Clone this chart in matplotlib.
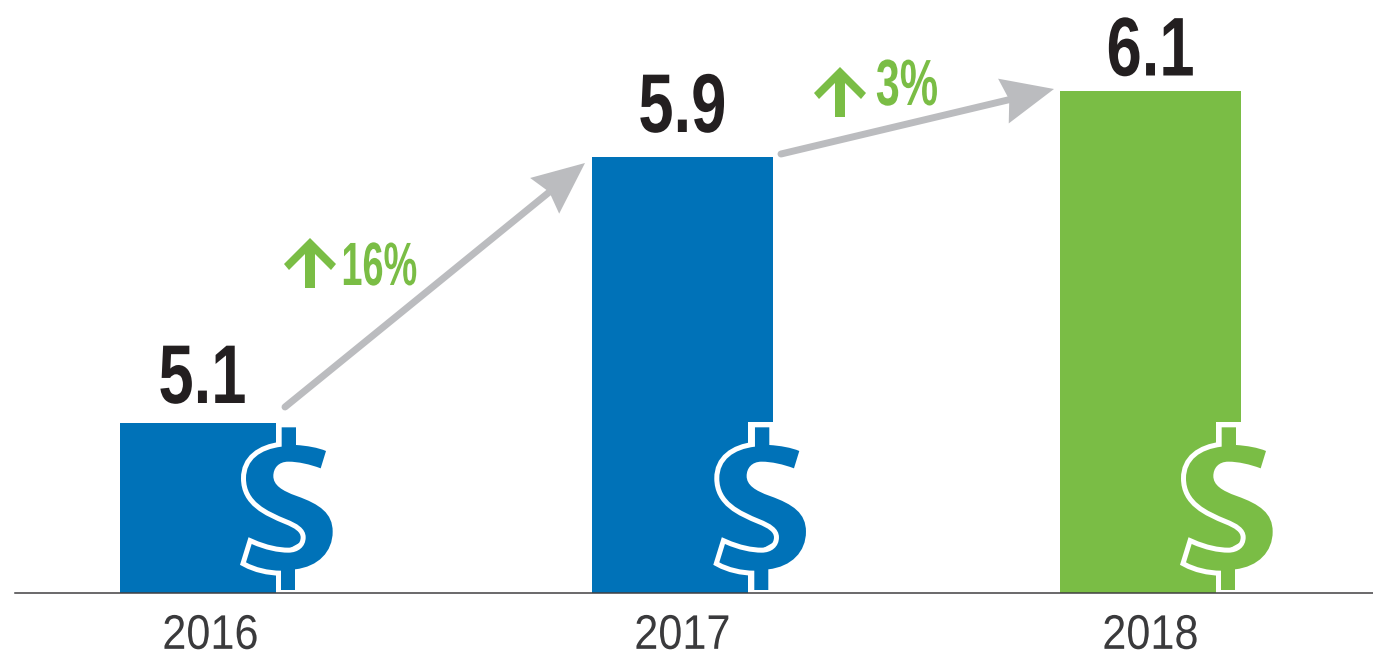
"""2016-2018 bar graphic with growth arrows and dollar signs."""
import matplotlib
matplotlib.use("Agg")
import matplotlib.patheffects as pe
import matplotlib.pyplot as plt
import numpy as np
from matplotlib.patches import PathPatch, Polygon, Rectangle
from matplotlib.path import Path
from matplotlib.transforms import Affine2D

years = ["2016", "2017", "2018"]
values = [5.1, 5.9, 6.1]
value_labels = ["5.1", "5.9", "6.1"]
growth_labels = ["16%", "3%"]

BLUE = "#0072B8"
GREEN = "#7ABD45"
GRAY = "#BBBCBF"
INK = "#231F20"
bar_colors = [BLUE, BLUE, GREEN]

W, H = 1373, 660
BASE_PX = 593
PX_PER_UNIT = 332.5
PX_PER_STEP = 472
FONT = "Liberation Sans"

# dollar icon outline, traced at 3x; the icon is cut out of each bar's right end
M, L, C = Path.MOVETO, Path.LINETO, Path.CURVE4
DOLLAR = [
    (M, [(515, 82)]), (L, [(558, 82)]), (L, [(558, 135)]),
    (C, [(590, 137), (625, 143), (648, 153)]), (L, [(632, 205)]),
    (C, [(600, 193), (565, 185), (535, 185)]),
    (C, [(505, 185), (490, 205), (490, 228)]),
    (C, [(490, 255), (515, 272), (560, 288)]),
    (C, [(630, 313), (668, 340), (668, 395)]),
    (C, [(668, 455), (625, 500), (555, 508)]),
    (L, [(555, 570)]), (L, [(513, 570)]), (L, [(513, 512)]),
    (C, [(475, 512), (435, 502), (408, 487)]), (L, [(425, 432)]),
    (C, [(465, 450), (505, 458), (535, 458)]),
    (C, [(565, 458), (587, 440), (587, 412)]),
    (C, [(587, 385), (560, 370), (530, 358)]),
    (C, [(470, 333), (408, 305), (408, 235)]),
    (C, [(408, 180), (450, 148), (515, 140)]), (L, [(515, 82)]),
]
# lower counter of the S, where the bar still shows through
COUNTER = [(490, 348), (540, 365), (578, 400), (575, 425), (530, 450), (490, 445)]


class Squeeze(pe.AbstractPathEffect):
    # no condensed font installed, so narrow the glyphs about the string centre
    def __init__(self, sx):
        super().__init__()
        self.sx = sx

    def draw_path(self, renderer, gc, tpath, affine, rgbFace=None):
        ext = tpath.get_extents()
        cx = (ext.x0 + ext.x1) / 2
        squeeze = Affine2D().translate(-cx, 0).scale(self.sx, 1).translate(cx, 0)
        renderer.draw_path(gc, tpath, squeeze + affine, rgbFace)


fig = plt.figure(figsize=(W / 100, H / 100), dpi=100, facecolor="white")
ax = fig.add_axes([15 / W, (H - BASE_PX) / H, (W - 15) / W, BASE_PX / H])
y0 = values[0] - 170 / PX_PER_UNIT
ax.set_ylim(y0, y0 + BASE_PX / PX_PER_UNIT)
ax.set_xlim(-(210.5 - 15) / PX_PER_STEP, (W - 210.5) / PX_PER_STEP)

# third bar sits a touch closer than an even step
x_pos = [0, 1, 1.9915]
bar_w = 181 / PX_PER_STEP
ax.bar(x_pos, values, width=bar_w, color=bar_colors, linewidth=0)

for s in ax.spines.values():
    s.set_visible(False)
ax.set_yticks([])
ax.set_xticks(x_pos, years, fontsize=35, family=FONT, color="#3A3A3C")
ax.tick_params(axis="x", length=0, pad=15)
for t in ax.get_xticklabels():
    t.set_path_effects([Squeeze(0.89)])

label_dx = [-8, 0, 0]
label_dy = [20, 25, 15]
for x, v, txt, dx, dy in zip(x_pos, values, value_labels, label_dx, label_dy):
    ax.annotate(txt, xy=(x, v), xytext=(dx * 0.72, dy * 0.72), textcoords="offset points",
                ha="center", va="baseline", fontsize=60, fontweight="bold",
                family=FONT, color=INK, path_effects=[Squeeze(0.76)])

# overlay in reference pixels for the decoration
ov = fig.add_axes([0, 0, 1, 1], facecolor="none")
ov.set_xlim(0, W)
ov.set_ylim(H, 0)
ov.axis("off")


def grow_arrow(x0, y0_, x1, y1):
    # shaft plus slightly swept head, tip at x1, y1
    dx, dy = x1 - x0, y1 - y0_
    n = (dx * dx + dy * dy) ** 0.5
    ux, uy = dx / n, dy / n
    px, py = -uy, ux
    ov.plot([x0, x1 - 46 * ux], [y0_, y1 - 46 * uy], color=GRAY, lw=5,
            solid_capstyle="round")
    pts = [(x1, y1),
           (x1 - 52 * ux + 23 * px, y1 - 52 * uy + 23 * py),
           (x1 - 46 * ux, y1 - 46 * uy),
           (x1 - 52 * ux - 23 * px, y1 - 52 * uy - 23 * py)]
    ov.add_patch(Polygon(pts, closed=True, color=GRAY, lw=0))


def up_arrow(tx, ty):
    pts = [(tx, ty), (tx + 26, ty + 26), (tx + 21, ty + 32), (tx + 5, ty + 16),
           (tx + 5, ty + 50), (tx - 5, ty + 50), (tx - 5, ty + 16),
           (tx - 21, ty + 32), (tx - 26, ty + 26)]
    ov.add_patch(Polygon(pts, closed=True, color=GREEN, lw=0))


def dollar(left, right, col, ox):
    ov.add_patch(Rectangle((left + 156, 421.5), right - left - 156 + 1, 171, color="white", lw=0))
    to_px = lambda pts: np.array(pts, dtype=float) / 3 + [ox, 400]
    ov.add_patch(Polygon(to_px(COUNTER), closed=True, color=col, lw=0))
    verts, codes = [], []
    for code, pts in DOLLAR:
        verts.extend(pts)
        codes.extend([code] * len(pts))
    path = Path(to_px(verts), codes)
    ov.add_patch(PathPatch(path, facecolor="white", edgecolor="white", lw=7.2, joinstyle="miter"))
    ov.add_patch(PathPatch(path, facecolor=col, edgecolor="none", lw=0))


grow_arrow(285, 407, 585, 163)
grow_arrow(781, 154, 1054, 89)
up_arrow(310, 238)
up_arrow(840, 67)
ov.text(379, 285, growth_labels[0], fontsize=44, fontweight="bold", family=FONT,
        color=GREEN, ha="center", va="baseline", path_effects=[Squeeze(0.62)])
ov.text(907, 105, growth_labels[1], fontsize=47, fontweight="bold", family=FONT,
        color=GREEN, ha="center", va="baseline", path_effects=[Squeeze(0.66)])

dollar(120, 301, BLUE, 110)
dollar(592, 773, BLUE, 583.3)
dollar(1060, 1241, GREEN, 1050)

ov.plot([15, W], [BASE_PX, BASE_PX], color="#414042", lw=1.1)

fig.savefig("out.png", dpi=100, facecolor="white")
